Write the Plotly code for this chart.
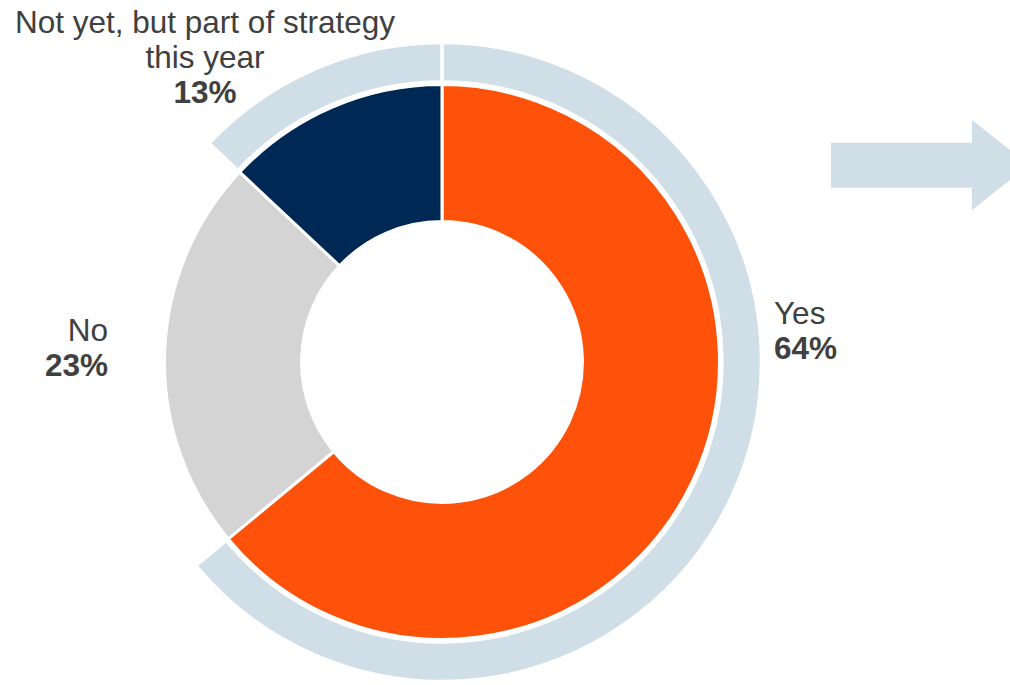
import plotly.graph_objects as go

# ---- data ----
categories = ["Yes", "No", "Not yet, but part of strategy this year"]
values = [64, 23, 13]
label_lines = [["Yes"], ["No"], ["Not yet, but part of strategy", "this year"]]
pct_labels = ["64%", "23%", "13%"]

slice_colors = ["#FE520A", "#D4D4D4", "#002855"]
ring_color = "#D0DEE8"
text_color = "#404040"

W, H = 1010, 685

def px(x):
    return x / W

def py(y):
    return 1 - y / H

fig = go.Figure()

# outer highlight ring (Yes + Not yet)
fig.add_trace(go.Pie(
    labels=categories, values=values, sort=False, direction="clockwise", rotation=0,
    hole=0.876,
    marker=dict(colors=[ring_color, "rgba(0,0,0,0)", ring_color],
                line=dict(color="white", width=[3.5, 0, 3.5])),
    textinfo="none", hoverinfo="skip", showlegend=False,
    domain=dict(x=[px(122.5), px(761.5)], y=[py(681.5), py(42.5)]),
))

# main donut
fig.add_trace(go.Pie(
    labels=categories, values=values, sort=False, direction="clockwise", rotation=0,
    hole=0.506,
    marker=dict(colors=slice_colors, line=dict(color="white", width=3)),
    textinfo="none", hoverinfo="skip", showlegend=False,
    domain=dict(x=[px(164.5), px(719.5)], y=[py(639.5), py(84.5)]),
))

FONT = "Liberation Sans, Arial, sans-serif"
FS = 31.5

def label(lines, pct, x, y, xanchor, spacing):
    parts = [f'<span style="font-size:{FS}px">{t}</span>' for t in lines]
    parts.append(f'<span style="font-size:{FS}px"><b>{pct}</b></span>')
    fig.add_annotation(
        text="<br>".join(parts),
        x=px(x), y=py(y), xref="paper", yref="paper",
        xanchor=xanchor, yanchor="middle", align=xanchor, showarrow=False,
        font=dict(family=FONT, size=spacing / 1.3, color=text_color),
    )

label(label_lines[0], pct_labels[0], 772, 330.5, "left", 35)
label(label_lines[1], pct_labels[1], 110, 347.5, "right", 35)
label(label_lines[2], pct_labels[2], 205, 57.5, "center", 35)

# decorative arrow
pts = [(831, 142.7), (972, 142.7), (972, 120), (1029, 165), (972, 210), (972, 187.7), (831, 187.7)]
path = "M " + " L ".join(f"{px(x):.5f},{py(y):.5f}" for x, y in pts) + " Z"
fig.add_shape(type="path", path=path, xref="paper", yref="paper",
              fillcolor=ring_color, line=dict(width=0), layer="above")

fig.update_layout(
    width=W, height=H,
    margin=dict(l=0, r=0, t=0, b=0),
    paper_bgcolor="white", plot_bgcolor="white",
)

fig.write_html("out.html", config={"displayModeBar": False},
               post_script="document.body.style.margin='0px';")
